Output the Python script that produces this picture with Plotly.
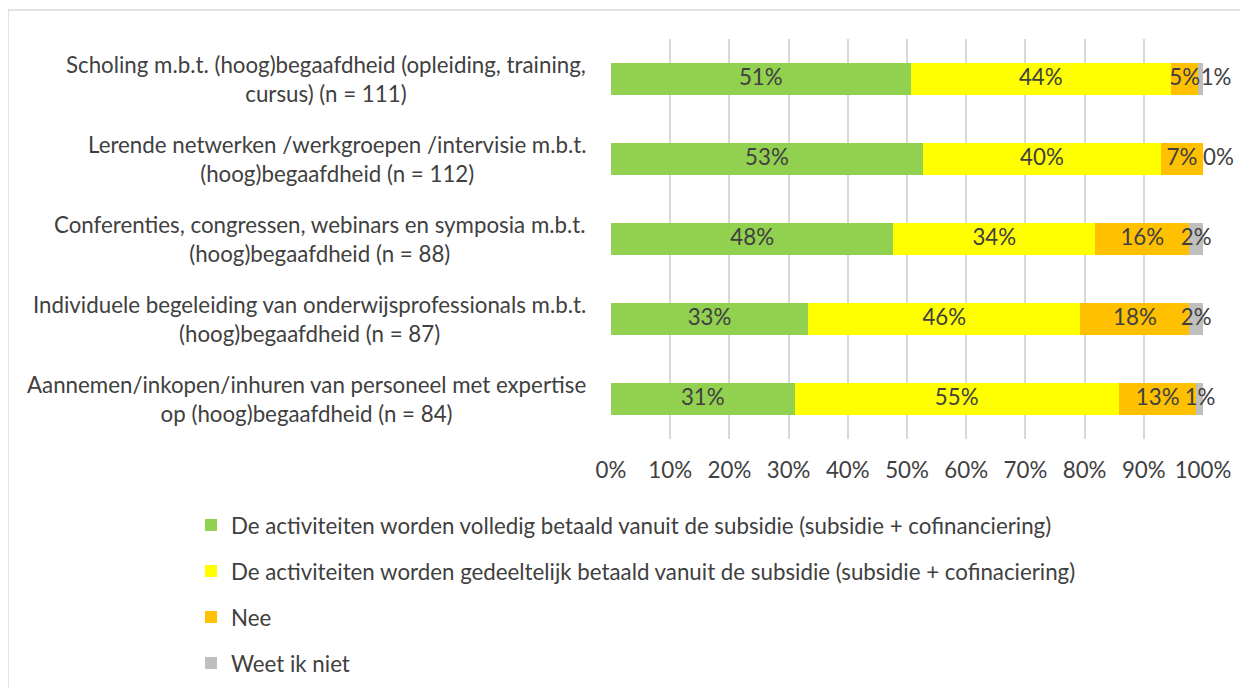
import plotly.graph_objects as go

# categories (top to bottom as in the chart)
categories = [
    "Scholing m.b.t. (hoog)begaafdheid (opleiding, training,<br>cursus) (n = 111)",
    "Lerende netwerken /werkgroepen /intervisie m.b.t.<br>(hoog)begaafdheid (n = 112)",
    "Conferenties, congressen, webinars en symposia m.b.t.<br>(hoog)begaafdheid (n = 88)",
    "Individuele begeleiding van onderwijsprofessionals m.b.t.<br>(hoog)begaafdheid (n = 87)",
    "Aannemen/inkopen/inhuren van personeel met expertise<br>op (hoog)begaafdheid (n = 84)",
]

# percentages per answer
volledig = [50.6, 52.7, 47.7, 33.3, 31.0]
gedeeltelijk = [44.0, 40.2, 34.1, 46.0, 54.8]
nee = [4.6, 7.1, 15.9, 18.4, 13.1]
weet_niet = [0.8, 0.0, 2.3, 2.3, 1.2]

series = [
    ("De activiteiten worden volledig betaald vanuit de subsidie (subsidie + cofinanciering)", volledig, "#92D050"),
    ("De activiteiten worden gedeeltelijk betaald vanuit de subsidie (subsidie + cofinaciering)", gedeeltelijk, "#FFFF00"),
    ("Nee", nee, "#FFC000"),
    ("Weet ik niet", weet_niet, "#BFBFBF"),
]

font_family = "Lato, 'Open Sans', sans-serif"
text_color = "#404040"
fsize = 22.3

fig = go.Figure()
base = [0.0] * len(categories)
for i, (name, vals, color) in enumerate(series):
    fig.add_trace(go.Bar(
        y=categories, x=vals, name=name, orientation="h",
        marker=dict(color=color, line=dict(width=0)),
        legendgroup=str(i), hoverinfo="x+name",
    ))
    # value labels centred in each segment (also for 0-width segments)
    mids = [b + v / 2 for b, v in zip(base, vals)]
    # labels of segments under 1% sit just right of the bar end, like in Excel
    pos = ["middle right" if v < 1 else "middle center" for v in vals]
    fig.add_trace(go.Scatter(
        y=categories, x=mids, mode="text",
        text=[f"{round(v)}%" for v in vals], textposition=pos,
        textfont=dict(size=fsize, color=text_color, family=font_family),
        showlegend=False, hoverinfo="skip", cliponaxis=False,
        legendgroup=str(i),
    ))
    base = [b + v for b, v in zip(base, vals)]

# category labels, centred per line like the original
for c in categories:
    fig.add_annotation(
        x=-0.039, xref="paper", y=c, yref="y", text=c, showarrow=False,
        xanchor="right", align="center",
        font=dict(size=fsize, color=text_color, family=font_family),
    )

# outer border of the chart
fig.add_shape(type="rect", xref="paper", yref="paper",
              x0=-1.0186, x1=1.2, y0=1.0725, y1=-0.8,
              line=dict(color="#D9D9D9", width=1.5), layer="below")

# page body has an 8px margin, so the figure is 8px smaller each way
fig.update_layout(
    width=1240, height=680,
    margin=dict(l=603, r=45, t=31, b=249, autoexpand=False),
    barmode="stack", bargap=0.6,
    plot_bgcolor="white", paper_bgcolor="white",
    font=dict(family=font_family, size=fsize, color=text_color),
    showlegend=True,
    legend=dict(
        x=-0.7095, y=-0.1625, xanchor="left", yanchor="top",
        orientation="v", tracegroupgap=14, traceorder="grouped",
        font=dict(size=fsize, color=text_color, family=font_family),
        itemwidth=30,
    ),
    xaxis=dict(
        range=[0, 100], dtick=10, ticksuffix="%",
        showgrid=True, gridcolor="#D9D9D9", gridwidth=1.5,
        zeroline=False, showline=False, ticks="", tickangle=0,
        ticklabelstandoff=16,
        tickfont=dict(size=fsize, color=text_color),
    ),
    yaxis=dict(
        autorange="reversed", showticklabels=False, showgrid=False,
        ticks="", showline=False,
    ),
)

fig.write_html("out.html")
